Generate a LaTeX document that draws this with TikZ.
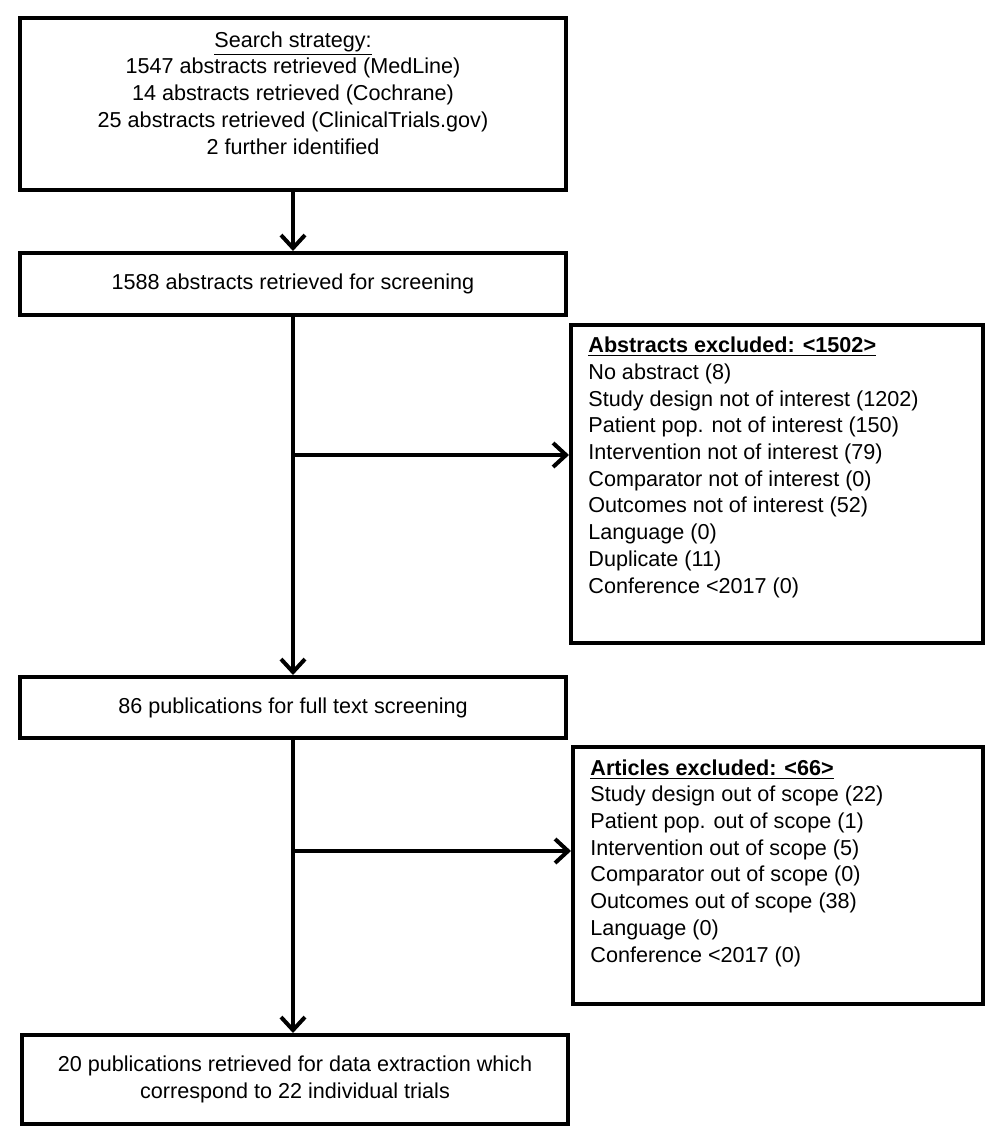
\documentclass[tikz,border=0pt]{standalone}
\usepackage{fontspec}
\setmainfont{Liberation Sans}
\usetikzlibrary{arrows.meta}
\begin{document}
\begin{tikzpicture}[x=0.5pt,y=-0.5pt,
  box/.style={draw, line width=2pt, inner sep=0pt, align=center,
    font=\fontsize{10.8}{13.35}\selectfont},
  txt/.style={inner sep=0pt, font=\fontsize{10.8}{13.35}\selectfont},
  conn/.style={line width=2pt, -{Straight Barb[length=6.5pt,width=12pt]}},
  trunk/.style={line width=2pt}]
\useasboundingbox (0,0) rectangle (1000,1146);

% main column boxes
\node[box, minimum width=273pt, minimum height=86pt] (search) at (293,104) {};
\node[txt, anchor=base, align=center] (searchtxt) at (293,154)
  {\underline{Search strategy:}\\
   1547 abstracts retrieved (MedLine)\\
   14 abstracts retrieved (Cochrane)\\
   25 abstracts retrieved (ClinicalTrials.gov)\\
   2 further identified};

\node[box, minimum width=273pt, minimum height=31pt] (screen) at (293,284)
  {1588 abstracts retrieved for screening};

\node[box, minimum width=273pt, minimum height=30.5pt] (full) at (293,707.5)
  {86 publications for full text screening};

\node[box, minimum width=273pt, minimum height=44.5pt] (final) at (295,1079.5)
  {20 publications retrieved for data extraction which\\
   correspond to 22 individual trials};

% exclusion boxes
\node[box, minimum width=206pt, minimum height=159pt] (exA) at (777,484) {};
\node[txt, anchor=base west, align=left] (exAtxt) at (588,593)
  {\textbf{\underline{Abstracts excluded: <1502>}}\\
   No abstract (8)\\
   Study design not of interest (1202)\\
   Patient pop. not of interest (150)\\
   Intervention not of interest (79)\\
   Comparator not of interest (0)\\
   Outcomes not of interest (52)\\
   Language (0)\\
   Duplicate (11)\\
   Conference <2017 (0)};

\node[box, minimum width=205pt, minimum height=128.5pt] (exB) at (778,875.5) {};
\node[txt, anchor=base west, align=left] (exBtxt) at (590,962)
  {\textbf{\underline{Articles excluded: <66>}}\\
   Study design out of scope (22)\\
   Patient pop. out of scope (1)\\
   Intervention out of scope (5)\\
   Comparator out of scope (0)\\
   Outcomes out of scope (38)\\
   Language (0)\\
   Conference <2017 (0)};

% connectors
\coordinate (brA) at (293,455);
\coordinate (brB) at (293,851);
\draw[conn] (search.south) -- (screen.north);
\draw[conn] (screen.south) -- (full.north);
\draw[conn] (brA) -- (brA -| exA.west);
\draw[conn] (full.south) -- (full.south |- final.north);
\draw[conn] (brB) -- (brB -| exB.west);
\end{tikzpicture}
\end{document}
